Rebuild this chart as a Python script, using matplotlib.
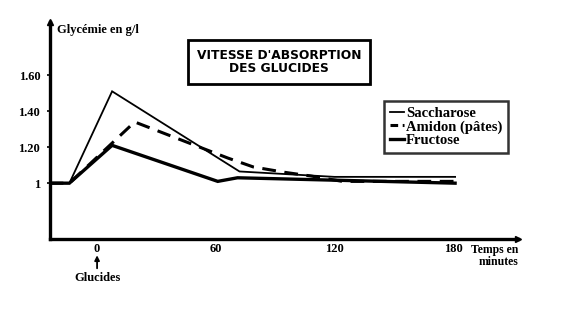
import matplotlib
matplotlib.use("Agg")
import matplotlib.pyplot as plt
from matplotlib.lines import Line2D

# Data (time in minutes, glycemia in g/l)
sacch_t = [-24, -14, 7.6, 72, 120, 181]
sacch_v = [1.0, 1.0, 1.51, 1.065, 1.035, 1.035]
amidon_t = [-24, -14, 19, 66, 79, 95, 108, 124, 181]
amidon_v = [1.0, 1.0, 1.34, 1.14, 1.09, 1.06, 1.04, 1.01, 1.01]
fruct_t = [-24, -14, 7.6, 61, 71, 181]
fruct_v = [1.0, 1.0, 1.21, 1.01, 1.03, 1.0]

xticks = [0, 60, 120, 180]
xticklabels = ["0", "60", "120", "180"]
yticks = [1.0, 1.2, 1.4, 1.6]
yticklabels = ["1", "1.20", "1.40", "1.60"]

serif = ["Liberation Serif", "DejaVu Serif"]

fig = plt.figure(figsize=(5.76, 3.11), dpi=100)
ax = fig.add_axes([50/576, 1-239/311, (518-50)/576, (239-22)/311])
ax.set_xlim(-23.8, 212.8)
ax.set_ylim(0.69, 1.895)

ax.plot(sacch_t, sacch_v, color="black", lw=1.3, solid_joinstyle="miter")
ax.plot(amidon_t, amidon_v, color="black", lw=2.2, dashes=(4.5, 2.8))
ax.plot(fruct_t, fruct_v, color="black", lw=2.4, solid_joinstyle="miter")

for s in ["top", "right"]:
    ax.spines[s].set_visible(False)
for s in ["left", "bottom"]:
    ax.spines[s].set_linewidth(2.4)

# arrowheads
ax.plot(1, 0, ">k", transform=ax.transAxes, clip_on=False, ms=4)
ax.plot(0, 1, "^k", transform=ax.transAxes, clip_on=False, ms=4)

ax.set_xticks(xticks)
ax.set_xticklabels(xticklabels, fontfamily=serif, fontweight="bold", fontsize=9)
ax.set_yticks(yticks)
ax.set_yticklabels(yticklabels, fontfamily=serif, fontweight="bold", fontsize=9)
ax.tick_params(axis="x", length=0, pad=3)
ax.tick_params(axis="y", length=2, width=1.2, pad=5)

ax.text(0.015, 0.965, "Glycémie en g/l", transform=ax.transAxes, ha="left", va="center",
        fontfamily=serif, fontweight="bold", fontsize=9)
ax.text(1.0, -0.025, "Temps en\nminutes", transform=ax.transAxes, ha="right", va="top",
        fontfamily=serif, fontweight="bold", fontsize=8.5, linespacing=1.0)
ax.annotate("", xy=(0, -0.075), xytext=(0, -0.135),
            xycoords=("data", "axes fraction"), textcoords=("data", "axes fraction"),
            arrowprops=dict(arrowstyle="-|>", color="black", lw=1.3, mutation_scale=7,
                            shrinkA=0, shrinkB=0))
ax.text(0, -0.15, "Glucides", transform=ax.get_xaxis_transform(), ha="center", va="top",
        fontfamily=serif, fontweight="bold", fontsize=9)

fig.text(279/576, 1-62/311, "VITESSE D'ABSORPTION\nDES GLUCIDES", ha="center", va="center",
         fontfamily="DejaVu Sans", fontweight="bold", fontsize=8.8, linespacing=0.95,
         bbox=dict(boxstyle="square,pad=0.75", fc="white", ec="black", lw=2))

handles = [Line2D([], [], color="black", lw=1.3),
           Line2D([], [], color="black", lw=2.2, dashes=(2.5, 1.5)),
           Line2D([], [], color="black", lw=2.4)]
leg = ax.legend(handles, ["Saccharose", "Amidon (pâtes)", "Fructose"],
                loc="upper left", bbox_to_anchor=((384-50)/468, 1-(101-22)/217),
                prop=dict(family=serif, weight="bold", size=10.5),
                handlelength=1.0, handletextpad=0.1, labelspacing=0.0,
                borderpad=0.4, borderaxespad=0, frameon=True, fancybox=False)
leg.get_frame().set_edgecolor("black")
leg.get_frame().set_linewidth(1.8)

fig.savefig("out.png", dpi=100)
